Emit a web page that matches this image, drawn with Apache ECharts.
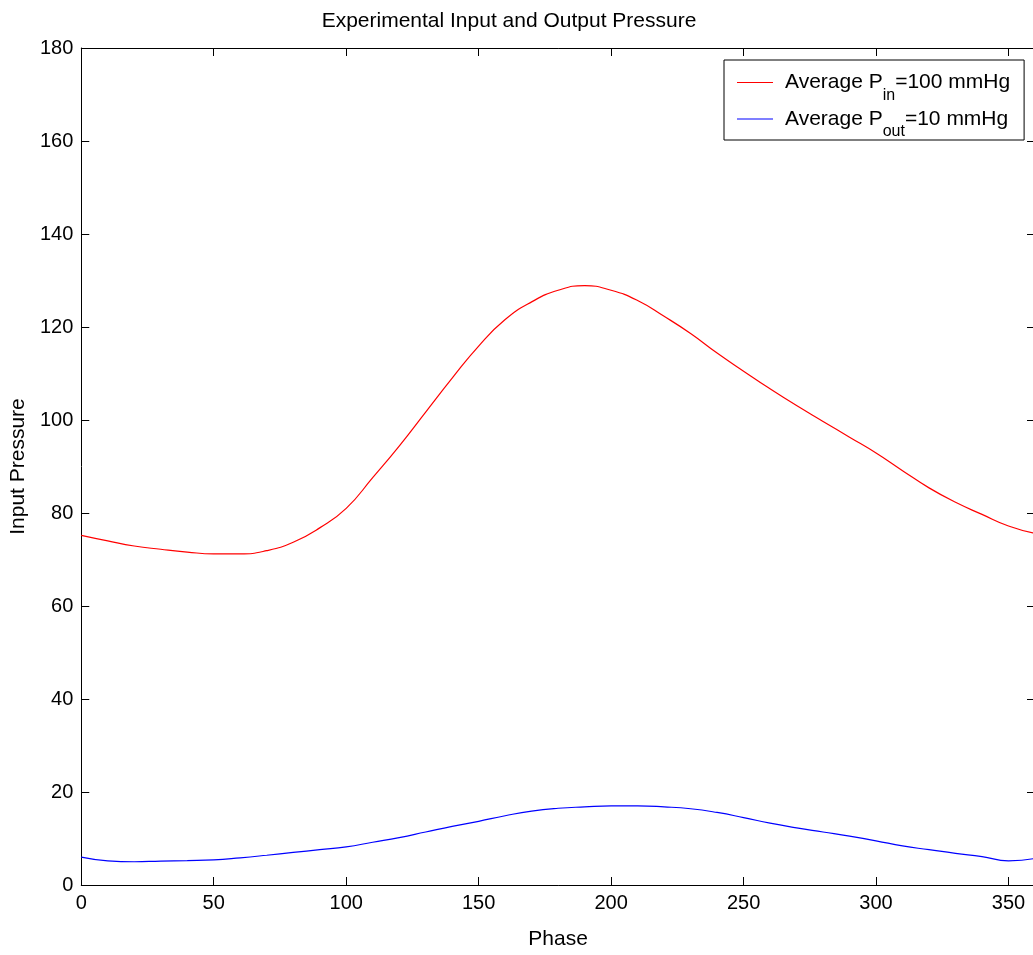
<!DOCTYPE html>
<html>
<head>
<meta charset="utf-8">
<script src="https://cdn.jsdelivr.net/npm/echarts@6/dist/echarts.min.js"></script>
<style>
  html, body { margin: 0; padding: 0; overflow: hidden; background: #fff; }
  #chart { width: 1040px; height: 955px; }
</style>
</head>
<body>
<div id="chart"></div>
<script>
// Phase angle (degrees) at which both pressures were sampled
const phase = [0, 10, 20, 30, 40, 50, 60, 70, 80, 90, 100, 110, 120, 130, 140, 150, 160, 170, 180,
               190, 200, 210, 220, 230, 240, 250, 260, 270, 280, 290, 300, 310, 320, 330, 340, 350, 360];

// Input pressure over one cycle (mmHg)
const pressureIn = [75.2, 74.0, 72.9, 72.2, 71.6, 71.2, 71.2, 71.9, 73.7, 76.8, 81.0, 87.6, 94.4,
                    101.7, 109.0, 115.9, 121.6, 125.4, 127.9, 128.9, 127.9, 125.7, 122.3, 118.6,
                    114.4, 110.5, 106.7, 103.1, 99.7, 96.3, 92.9, 89.1, 85.4, 82.3, 79.7, 77.2, 75.6];

// Output pressure over one cycle (mmHg)
const pressureOut = [6.0, 5.2, 5.0, 5.15, 5.25, 5.4, 5.85, 6.4, 7.0, 7.6, 8.2, 9.2, 10.2, 11.4,
                     12.6, 13.7, 14.9, 15.9, 16.5, 16.8, 17.0, 17.0, 16.8, 16.4, 15.6, 14.5, 13.3,
                     12.3, 11.4, 10.5, 9.5, 8.4, 7.6, 6.8, 6.1, 5.2, 5.7];

// Legend entries (name -> rich text with subscripts)
const legendLabels = {
  'Average Pin': '{gap|}{t|Average P}{sub|in}{t|=100 mmHg}',
  'Average Pout': '{gap|}{t|Average P}{sub|out}{t|=10 mmHg}'
};

const FONT = "'Liberation Sans', Arial, Helvetica, sans-serif";

const pairs = (ys) => phase.map((x, i) => [x, ys[i]]);

const frameAxis = {
  axisLine: { show: true, onZero: false, lineStyle: { color: '#000', width: 1 } },
  axisTick: { show: true, inside: true, length: 8, lineStyle: { color: '#000', width: 1 } },
  splitLine: { show: false }
};

const chart = echarts.init(document.getElementById('chart'), null, { renderer: 'canvas' });

chart.setOption({
  backgroundColor: '#fff',
  animation: false,
  textStyle: { fontFamily: FONT },
  title: {
    text: 'Experimental Input and Output Pressure',
    left: 504,
    top: 6,
    textAlign: 'center',
    textStyle: { fontFamily: FONT, fontSize: 21, fontWeight: 'normal', color: '#000' }
  },
  grid: { left: 80, right: 5, top: 48, bottom: 69, containLabel: false },
  legend: {
    orient: 'vertical',
    left: 724,
    top: 60,
    padding: [12, 14, 0, 13],
    itemGap: 5,
    itemWidth: 36,
    itemHeight: 1,
    backgroundColor: '#fff',
    borderColor: '#000',
    borderWidth: 1,
    selectedMode: false,
    data: [
      { name: 'Average Pin', icon: 'rect' },
      { name: 'Average Pout', icon: 'rect' }
    ],
    formatter: (name) => legendLabels[name],
    textStyle: {
      fontFamily: FONT,
      color: '#000',
      rich: {
        gap: { width: 7 },
        t: { fontSize: 21, color: '#000', fontFamily: FONT },
        sub: { fontSize: 16, padding: [26, 0, 0, 0], color: '#000', fontFamily: FONT }
      }
    }
  },
  xAxis: [
    Object.assign({}, frameAxis, {
      type: 'value', position: 'bottom', min: 0, max: 360, interval: 50,
      name: 'Phase', nameLocation: 'middle', nameGap: 44,
      nameTextStyle: { fontFamily: FONT, fontSize: 21, color: '#000' },
      axisLabel: { show: true, showMaxLabel: false, margin: 8, fontSize: 20, color: '#000', fontFamily: FONT }
    }),
    Object.assign({}, frameAxis, {
      type: 'value', position: 'top', min: 0, max: 360, interval: 50,
      axisLabel: { show: false }
    })
  ],
  yAxis: [
    Object.assign({}, frameAxis, {
      type: 'value', position: 'left', min: 0, max: 180, interval: 20,
      name: 'Input Pressure', nameLocation: 'middle', nameGap: 48,
      nameTextStyle: { fontFamily: FONT, fontSize: 21, color: '#000' },
      axisLabel: { show: true, margin: 8, fontSize: 20, color: '#000', fontFamily: FONT }
    }),
    Object.assign({}, frameAxis, {
      type: 'value', position: 'right', min: 0, max: 180, interval: 20,
      axisLabel: { show: false }
    })
  ],
  series: [
    {
      name: 'Average Pin', type: 'line', xAxisIndex: 0, yAxisIndex: 0,
      data: pairs(pressureIn), smooth: 0.5, symbol: 'none',
      lineStyle: { color: '#ff0000', width: 1.2 }, itemStyle: { color: '#ff0000' }
    },
    {
      name: 'Average Pout', type: 'line', xAxisIndex: 0, yAxisIndex: 0,
      data: pairs(pressureOut), smooth: 0.5, symbol: 'none',
      lineStyle: { color: '#0000ff', width: 1.2 }, itemStyle: { color: '#0000ff' }
    }
  ]
});
</script>
</body>
</html>
